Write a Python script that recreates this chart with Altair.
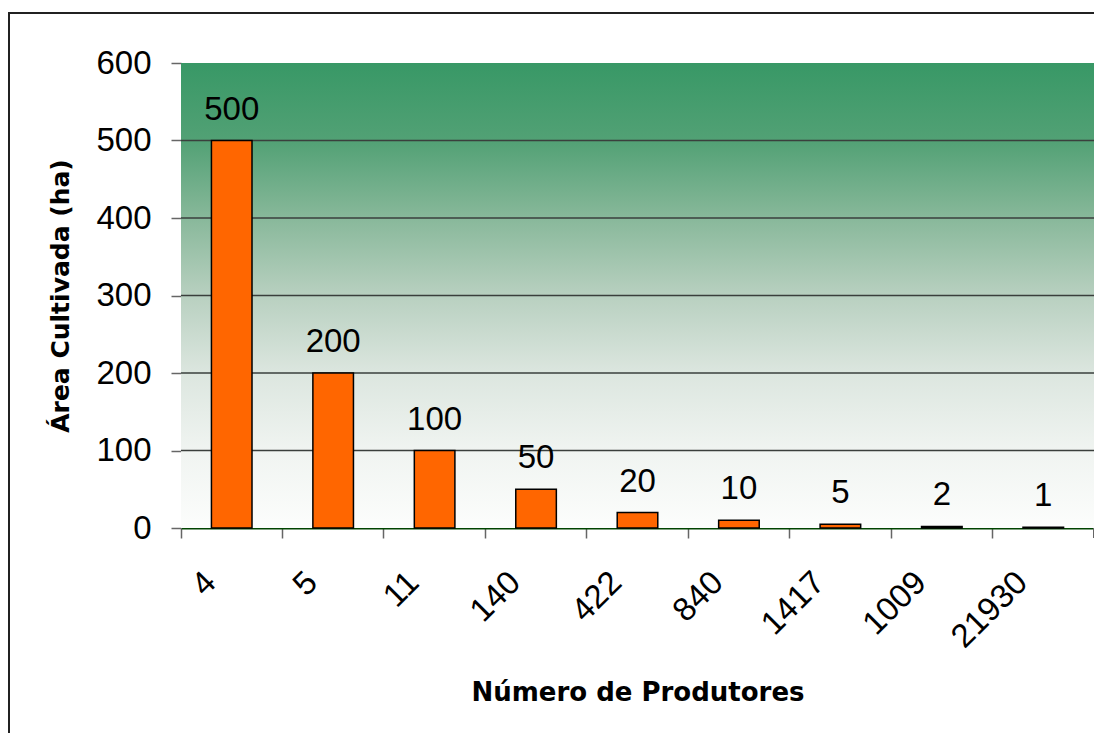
import altair as alt
import pandas as pd

produtores = ["4", "5", "11", "140", "422", "840", "1417", "1009", "21930"]
area = [500, 200, 100, 50, 20, 10, 5, 2, 1]
grid_values = [100, 200, 300, 400, 500]

df = pd.DataFrame({"produtores": produtores, "area": area})
grid_df = pd.DataFrame({"v": grid_values})

W, H = 913, 465

xenc = alt.X(
    "produtores:N",
    sort=None,
    scale=alt.Scale(paddingInner=0.6, paddingOuter=0.3),
    axis=alt.Axis(
        title="Número de Produtores",
        titleFont="DejaVu Sans",
        titleFontSize=26,
        titleFontWeight="bold",
        titleColor="black",
        titleBaseline="alphabetic",
        titleY=172,
        labelFont="Liberation Sans",
        labelFontSize=33,
        labelColor="black",
        labelAngle=-45,
        labelAlign="right",
        labelBaseline="middle",
        labelPadding=39,
        labelOffset=-21,
        bandPosition=-0.75,
        tickSize=10,
        tickColor="#666666",
        tickWidth=1.5,
        domainColor="#004400",
        domainWidth=2,
        grid=False,
    ),
)

yscale = alt.Scale(domain=[0, 600], nice=False, zero=True)
yenc = alt.Y(
    "area:Q",
    scale=yscale,
    axis=alt.Axis(
        title="Área Cultivada (ha)",
        titleFont="DejaVu Sans",
        titleFontSize=25,
        titleFontWeight="bold",
        titleColor="black",
        titlePadding=22,
        values=[0, 100, 200, 300, 400, 500, 600],
        labelFont="Liberation Sans",
        labelFontSize=33,
        labelColor="black",
        labelPadding=20,
        tickSize=10,
        tickColor="#666666",
        tickWidth=1.5,
        domain=False,
        grid=False,
    ),
)

gradient = alt.Gradient(
    gradient="linear",
    x1=0, y1=0, x2=0, y2=1,
    stops=[
        alt.GradientStop(color="#389866", offset=0),
        alt.GradientStop(color="#52a175", offset=0.167),
        alt.GradientStop(color="#88b89a", offset=0.333),
        alt.GradientStop(color="#b8d0c0", offset=0.5),
        alt.GradientStop(color="#dce6df", offset=0.667),
        alt.GradientStop(color="#f0f4f1", offset=0.833),
        alt.GradientStop(color="#fcfdfc", offset=1),
    ],
)

background = alt.Chart(grid_df).mark_rect(fill=gradient, stroke=None).encode(
    x=alt.value(0), x2=alt.value("width"),
    y=alt.value(0), y2=alt.value("height"),
)

grid = alt.Chart(grid_df).mark_rule(color="#3a3f3c", strokeWidth=1.5).encode(
    y=alt.Y("v:Q", scale=yscale),
    x=alt.value(0), x2=alt.value("width"),
)

bars = alt.Chart(df).mark_bar(color="#FF6600", stroke="black", strokeWidth=1.5).encode(
    x=xenc, y=yenc,
)

labels = alt.Chart(df).mark_text(
    font="Liberation Sans", fontSize=33, color="black", baseline="alphabetic", dy=-21
).encode(
    x=alt.X("produtores:N", sort=None),
    y=alt.Y("area:Q", scale=yscale),
    text=alt.Text("area:Q"),
)

end_tick = alt.Chart(grid_df).mark_rule(color="#666666", strokeWidth=1.5).encode(
    x=alt.value("width"),
    y=alt.datum(0, scale=yscale), y2=alt.datum(-12.9),
)

frame = alt.Chart(grid_df).mark_rect(filled=False, stroke="#222222", strokeWidth=1.5).encode(
    x=alt.value(-172), x2=alt.value(1100),
    y=alt.value(-50), y2=alt.value(900),
)

chart = alt.layer(background, grid, bars, labels, end_tick, frame).properties(
    width=W, height=H,
    autosize=alt.AutoSizeParams(type="none"),
    padding={"left": 173, "top": 55, "right": 0, "bottom": 205},
).configure_view(stroke="#008000", strokeWidth=2).configure(background="white")

chart.save("out.html", embed_options={"renderer": "svg", "actions": False})
